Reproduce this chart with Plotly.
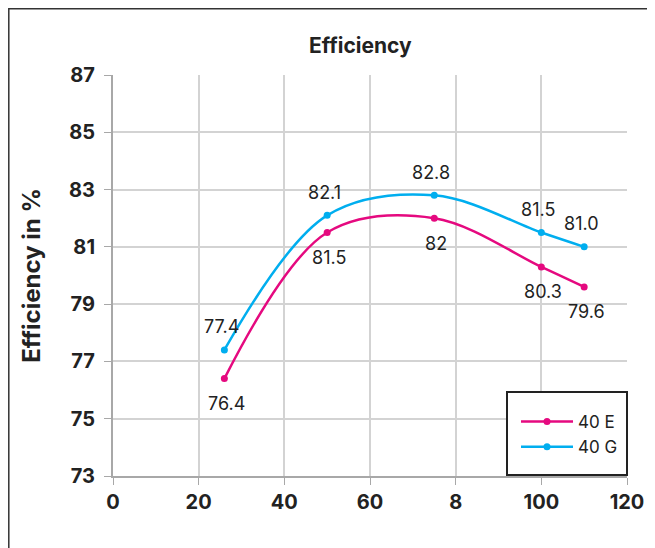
import plotly.graph_objects as go

x_vals = [26, 50, 75, 100, 110]
e_vals = [76.4, 81.5, 82.0, 80.3, 79.6]
g_vals = [77.4, 82.1, 82.8, 81.5, 81.0]
e_labels = ["76.4", "81.5", "82", "80.3", "79.6"]
g_labels = ["77.4", "82.1", "82.8", "81.5", "81.0"]
x_tickvals = [0, 20, 40, 60, 80, 100, 120]
x_ticktext = ["0", "20", "40", "60", "8", "100", "120"]
y_tickvals = [73, 75, 77, 79, 81, 83, 85, 87]

MAG = "#E5097F"
CYAN = "#00AEEF"
FONT = "Inter"
TXT = "#222"

fig = go.Figure()
fig.add_trace(go.Scatter(
    x=x_vals, y=e_vals, name="40 E", mode="lines+markers",
    line=dict(color=MAG, width=2.5, shape="spline", smoothing=1.0),
    marker=dict(color=MAG, size=7),
    legendgroup="e",
))
fig.add_trace(go.Scatter(
    x=x_vals, y=g_vals, name="40 G", mode="lines+markers",
    line=dict(color=CYAN, width=2.5, shape="spline", smoothing=1.0),
    marker=dict(color=CYAN, size=7),
    legendgroup="g",
))

annotations = []
for xv, yv, lab in zip(x_vals, e_vals, e_labels):
    annotations.append(dict(x=xv, y=yv, text=lab, showarrow=False, yshift=-25, xshift=2,
                            font=dict(family=FONT, size=18, color=TXT)))
for xv, yv, lab in zip(x_vals, g_vals, g_labels):
    annotations.append(dict(x=xv, y=yv, text=lab, showarrow=False, yshift=23, xshift=-3,
                            font=dict(family=FONT, size=18, color=TXT)))

# page offset (body margin) of 8px
OFF = 8
W, H = 655 - OFF, 548 - OFF
L, R, T, B = 113 - OFF, 655 - 627, 75 - OFF, 548 - 476
pw, ph = W - L - R, H - T - B

def px(xp):
    return (xp - OFF - L) / pw

def py(yp):
    return (H - B - (yp - OFF)) / ph

annotations.append(dict(text="Efficiency", x=px(360), y=py(45), xref="paper", yref="paper",
                        showarrow=False, xanchor="center", yanchor="middle",
                        font=dict(family=FONT, size=21, weight=700, color=TXT)))

fig.update_layout(
    width=W, height=H,
    margin=dict(l=L, r=R, t=T, b=B, autoexpand=False),
    paper_bgcolor="white", plot_bgcolor="white",
    font=dict(family=FONT, color=TXT),
    xaxis=dict(range=[0, 120], tickvals=x_tickvals, ticktext=x_ticktext,
               showgrid=True, gridcolor="#d3d3d3", gridwidth=1.5,
               showline=True, linecolor="#a8a8a8", linewidth=2,
               ticks="outside", ticklen=7, tickcolor="#a8a8a8",
               tickfont=dict(family=FONT, size=20, weight=700, color=TXT),
               zeroline=False, automargin=False),
    yaxis=dict(range=[73, 87], tickvals=y_tickvals,
               showgrid=True, gridcolor="#d3d3d3", gridwidth=1.5,
               showline=True, linecolor="#a8a8a8", linewidth=2,
               ticks="outside", ticklen=7, tickcolor="#a8a8a8",
               ticklabelstandoff=5,
               tickfont=dict(family=FONT, size=20, weight=700, color=TXT),
               title=dict(text="Efficiency in %", standoff=22,
                          font=dict(family=FONT, size=24, weight=700, color=TXT)),
               zeroline=False, automargin=False),
    showlegend=True,
    legend=dict(x=px(516), y=py(404), xanchor="left", yanchor="top",
                borderwidth=0, bgcolor="rgba(0,0,0,0)",
                font=dict(family=FONT, size=17, color=TXT),
                itemwidth=52, tracegroupgap=6, traceorder="normal"),
    annotations=annotations,
    shapes=[
        dict(type="rect", xref="paper", yref="paper",
             x0=px(OFF + 0.8), x1=px(720), y0=py(620), y1=py(OFF + 0.8),
             line=dict(color="#333", width=1.5), layer="below"),
        dict(type="rect", xref="paper", yref="paper",
             x0=px(507), x1=px(627), y0=py(475), y1=py(392),
             line=dict(color="#222", width=2), fillcolor="white", layer="above"),
    ],
)

fig.write_html("out.html")
